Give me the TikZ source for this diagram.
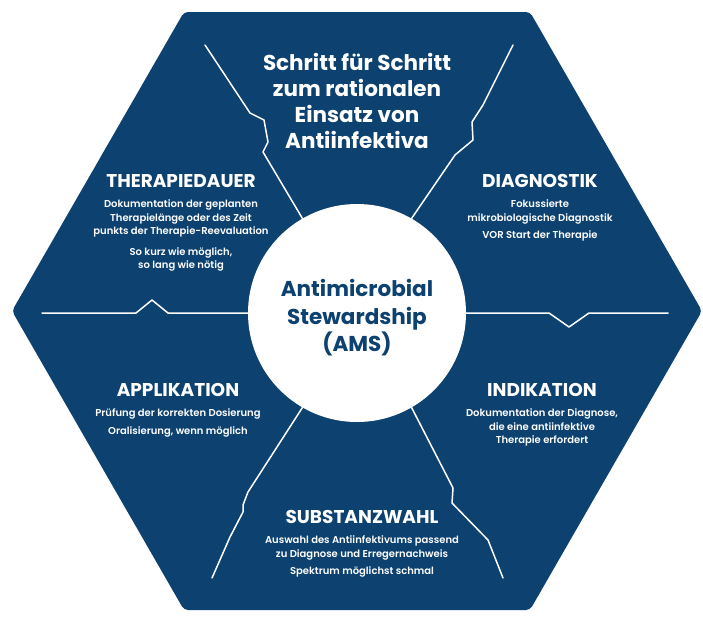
\documentclass[tikz,border=0pt]{standalone}
\usepackage{fontspec}
\setmainfont{Poppins}
\newfontfamily\medfont{Poppins SemiBold}
\usetikzlibrary{positioning}
\definecolor{amsblue}{HTML}{0C4170}

\begin{document}
\begin{tikzpicture}[x=1pt, y=-1pt, inner sep=0pt,
    head/.style={text=white, font=\bfseries\fontsize{18.5}{20}\selectfont},
    body/.style={text=white, align=center, font=\medfont\fontsize{10}{13.4}\selectfont},
    spoke/.style={draw=white, line width=1.5pt, line join=round, line cap=round}]
    \useasboundingbox (0,0) rectangle (703,616);
    % hexagon background
    \fill[amsblue, rounded corners=4pt] (12,311) -- (184,12) -- (530,12) -- (702,311) -- (530,610) -- (184,610) -- cycle;
    \node[circle, fill=white, minimum size=218pt] (ams) at (357,313) {};
    \node[text=amsblue, align=center, font=\bfseries\fontsize{21.5}{27.5}\selectfont] (amslabel) at (357,318) {Antimicrobial\\Stewardship\\(AMS)};

    % spokes
    \coordinate (ulend) at (205,45);
    \coordinate (urend) at (513,45);
    \coordinate (llend) at (212,578);
    \coordinate (lrend) at (503,578);
    \coordinate (lend) at (42,313);
    \coordinate (rend) at (668,313);
    \draw[spoke] (ams.120) -- (263,152) -- (268,142) -- (264,120) -- (250,113) -- (ulend);
    \draw[spoke] (ams.60) -- (455,155) -- (473,140) -- (472,122) -- (483,105) -- (urend);
    \draw[spoke] (ams.240) -- (248,492) -- (243,505) -- (243,512) -- (230,537) -- (llend);
    \draw[spoke] (ams.300) -- (453,488) -- (452,503) -- (488,540) -- (lrend);
    \draw[spoke] (ams.180) -- (168,313) -- (152,300) -- (136,313) -- (lend);
    \draw[spoke] (ams.0) -- (549,313) -- (569,327) -- (589,313) -- (rend);

    % title
    \node[text=white, align=center, font=\bfseries\fontsize{21.5}{25.8}\selectfont] (title) at (357,101) {Schritt für Schritt\\zum rationalen\\Einsatz von\\Antiinfektiva};

    % sections
    \node[head] (dauer) at (181,181) {THERAPIEDAUER};
    \node[body, below=12pt of dauer] (dauertxt) {Dokumentation der geplanten\\Therapielänge oder des Zeit\\punkts der Therapie-Reevaluation\\[7pt]So kurz wie möglich,\\so lang wie nötig};

    \node[head] (diag) at (540,181) {DIAGNOSTIK};
    \node[body, below=12pt of diag] (diagtxt) {Fokussierte\\mikrobiologische Diagnostik\\[4pt]VOR Start der Therapie};

    \node[head] (appl) at (178,390) {APPLIKATION};
    \node[body, below=12pt of appl] (appltxt) {Prüfung der korrekten Dosierung\\[4pt]Oralisierung, wenn möglich};

    \node[head] (indi) at (542,390) {INDIKATION};
    \node[body, below=12pt of indi] (inditxt) {Dokumentation der Diagnose,\\die eine antiinfektive\\Therapie erfordert};

    \node[head] (subst) at (362,517) {SUBSTANZWAHL};
    \node[body, below=12pt of subst] (substtxt) {Auswahl des Antiinfektivums passend\\zu Diagnose und Erregernachweis\\[4pt]Spektrum möglichst schmal};
\end{tikzpicture}
\end{document}
